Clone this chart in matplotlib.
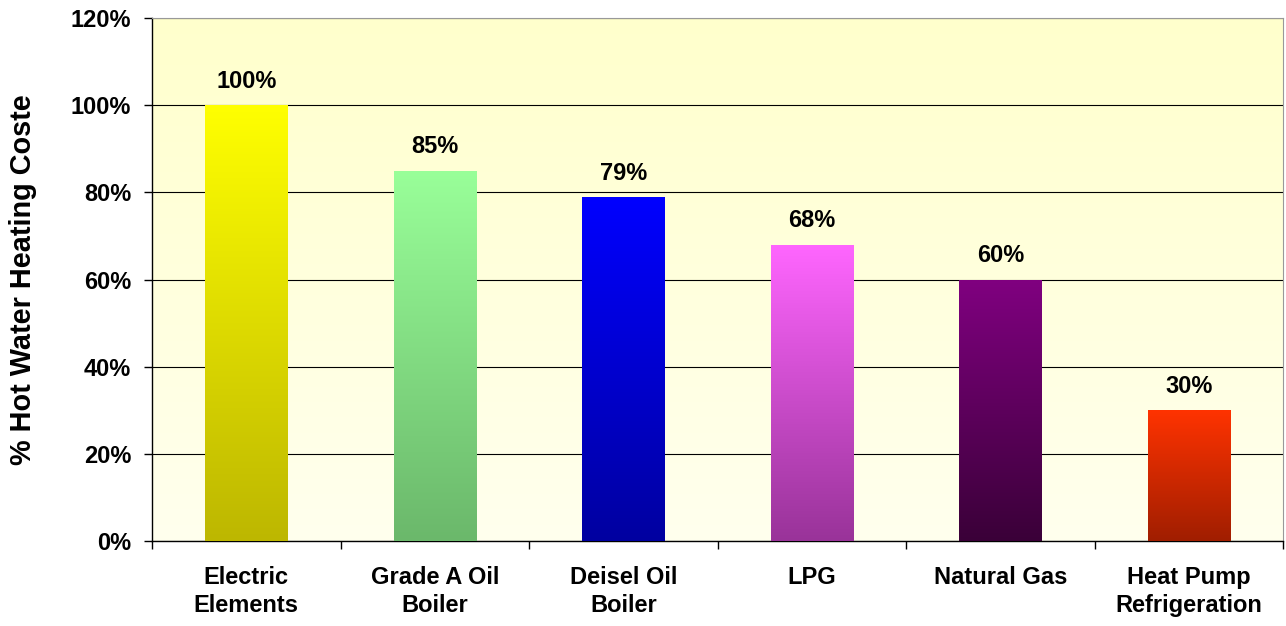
import numpy as np
import matplotlib.pyplot as plt
from matplotlib.colors import LinearSegmentedColormap
from matplotlib.ticker import FuncFormatter

categories = ['Electric\nElements', 'Grade A Oil\nBoiler', 'Deisel Oil\nBoiler',
              'LPG', 'Natural Gas', 'Heat Pump\nRefrigeration']
values = [100, 85, 79, 68, 60, 30]
top_colors = ['#FFFF00', '#99FF99', '#0000FF', '#FF66FF', '#800080', '#FF3300']
bottom_colors = ['#BDB700', '#6BB86B', '#0000A0', '#993399', '#3A0038', '#A01E00']

plt.rcParams['font.family'] = ['Liberation Sans', 'DejaVu Sans']
plt.rcParams['font.weight'] = 'bold'

fig = plt.figure(figsize=(12.86, 6.26), dpi=100)
ax = fig.add_axes([0.1182, 0.1358, 0.8795, 0.8354])

x = np.arange(len(categories))
bars = ax.bar(x, values, width=0.435, color='none', zorder=3)

# gradient fill for each bar
grad = np.linspace(0, 1, 256).reshape(-1, 1)
for b, c1, c2 in zip(bars, top_colors, bottom_colors):
    cmap = LinearSegmentedColormap.from_list('g', [c2, c1])
    x0, y0 = b.get_x(), b.get_y()
    im = ax.imshow(grad, cmap=cmap, aspect='auto', origin='lower',
                   extent=[x0, x0 + b.get_width(), y0, y0 + b.get_height()], zorder=3)
    im.set_clip_path(b)

# background gradient
bg = LinearSegmentedColormap.from_list('bg', ['#FFFFEE', '#FFFFCC'])
ax.imshow(grad, cmap=bg, aspect='auto', origin='lower', extent=[0, 1, 0, 1],
          transform=ax.transAxes, zorder=0)

ax.set_xlim(-0.5, len(categories) - 0.5)
ax.set_ylim(0, 120)

for xi, v in zip(x, values):
    ax.text(xi, v + 2.8, f'{v}%', ha='center', va='bottom', fontsize=17,
            fontweight='bold', zorder=4)

ax.set_yticks(range(0, 121, 20))
ax.yaxis.set_major_formatter(FuncFormatter(lambda v, p: f'{int(v)}%'))
ax.grid(axis='y', color='black', linewidth=0.8, zorder=1)
ax.set_axisbelow(True)

ax.set_xticks(np.arange(-0.5, len(categories), 1))
ax.set_xticklabels([])
ax.set_xticks(x, minor=True)
ax.set_xticklabels(categories, minor=True, fontsize=17, fontweight='bold',
                   linespacing=1.3)
ax.tick_params(axis='x', which='minor', length=0, pad=18)
ax.tick_params(axis='x', which='major', length=6, width=1, direction='out')
ax.tick_params(axis='y', length=6, width=1, labelsize=17, pad=9)
for lbl in ax.get_yticklabels():
    lbl.set_fontweight('bold')

ax.set_ylabel('% Hot Water Heating Coste', fontsize=20.8, fontweight='bold')
ax.yaxis.set_label_coords(-0.102, 0.5)

for s in ['left', 'bottom']:
    ax.spines[s].set_color('black')
    ax.spines[s].set_linewidth(1)
for s in ['top', 'right']:
    ax.spines[s].set_color('#999999')
    ax.spines[s].set_linewidth(0.8)

fig.savefig('out.png', dpi=100)
